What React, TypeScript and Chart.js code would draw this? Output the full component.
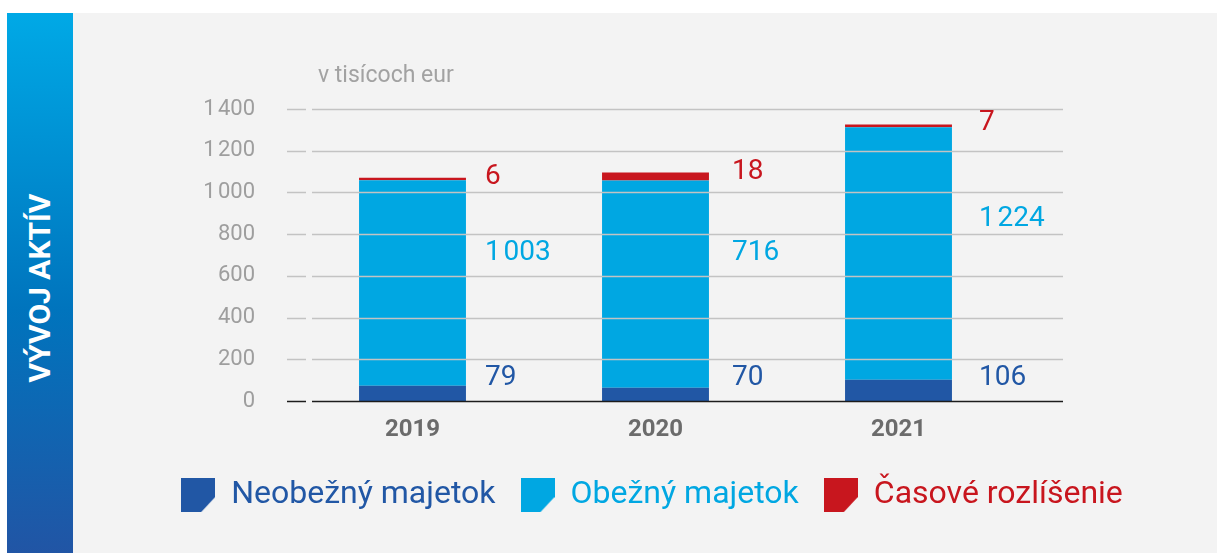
import React, { useEffect, useRef } from 'react';
import { Chart, registerables } from 'chart.js';

Chart.register(...registerables);

const years = ['2019', '2020', '2021'];
// bar heights as drawn in the picture
const neobeznyBar = [73, 64, 102];
const obeznyBar = [985, 993, 1211];
const casoveBar = [12, 38, 13];
// values printed next to the bars
const neobeznyLabel = [79, 70, 106];
const obeznyLabel = [1003, 716, 1224];
const casoveLabel = [6, 18, 7];
const yMin = 0;
const yMax = 1400;
const yStep = 200;
const seriesNames = ['Neobežný majetok', 'Obežný majetok', 'Časové rozlíšenie'];
const seriesColors = ['#2157a5', '#00a7e2', '#c8161e'];
const unitLabel = 'v tisícoch eur';
const bannerTitle = 'VÝVOJ AKTÍV';

const FONT = 'Roboto';

const fmt = (v: number) => {
  const s = String(Math.round(v));
  return s.length > 3 ? s.slice(0, -3) + '\u200A' + s.slice(-3) : s;
};

function makeMarker(color: string): HTMLCanvasElement {
  const c = document.createElement('canvas');
  c.width = 34;
  c.height = 34;
  const g = c.getContext('2d')!;
  g.fillStyle = color;
  g.beginPath();
  g.moveTo(0, 0);
  g.lineTo(34, 0);
  g.lineTo(34, 19);
  g.lineTo(20, 34);
  g.lineTo(0, 34);
  g.closePath();
  g.fill();
  return c;
}

const gridPlugin = {
  id: 'overGrid',
  afterDatasetsDraw(chart: any) {
    const { ctx, chartArea, scales } = chart;
    const y = scales.y;
    ctx.save();
    y.ticks.forEach((t: any) => {
      const py = Math.round(y.getPixelForValue(t.value)) + 0.5;
      ctx.strokeStyle = t.value === 0 ? '#1c1c1c' : '#c3c3c3';
      ctx.lineWidth = 1.5;
      ctx.beginPath();
      ctx.moveTo(chartArea.left - 4, py);
      ctx.lineTo(chartArea.left + 15, py);
      ctx.moveTo(chartArea.left + 21, py);
      ctx.lineTo(chartArea.right + 43, py);
      ctx.stroke();
    });
    ctx.restore();
  },
};

const labelPlugin = {
  id: 'valueLabels',
  afterDatasetsDraw(chart: any) {
    const { ctx, scales, chartArea } = chart;
    const yZero = scales.y.getPixelForValue(0);
    const texts = [neobeznyLabel, obeznyLabel, casoveLabel];
    ctx.save();
    ctx.font = `28px ${FONT}`;
    ctx.textAlign = 'left';
    ctx.textBaseline = 'alphabetic';
    chart.data.datasets.forEach((ds: any, d: number) => {
      const meta = chart.getDatasetMeta(d);
      meta.data.forEach((bar: any, i: number) => {
        const x = bar.x + bar.width / 2 + 19 + 4 * i;
        let y;
        if (d === 0) y = yZero - 16;
        else if (d === 1) y = yZero + 0.64 * (bar.y - yZero);
        else y = bar.y + 6;
        ctx.fillStyle = seriesColors[d];
        ctx.fillText(fmt(texts[d][i]), x, y);
      });
    });
    ctx.font = `23px ${FONT}`;
    ctx.fillStyle = '#a2a2a2';
    ctx.fillText(unitLabel, chartArea.left + 27, chartArea.top - 27);
    ctx.restore();
  },
};

export default function App() {
  const ref = useRef<HTMLCanvasElement>(null);

  useEffect(() => {
    const markers = seriesColors.map(makeMarker);
    const chart = new Chart(ref.current!, {
      type: 'bar',
      data: {
        labels: years,
        datasets: [
          { label: seriesNames[0], data: neobeznyBar, backgroundColor: seriesColors[0] },
          { label: seriesNames[1], data: obeznyBar, backgroundColor: seriesColors[1] },
          { label: seriesNames[2], data: casoveBar, backgroundColor: seriesColors[2] },
        ],
      },
      options: {
        animation: false,
        responsive: false,
        maintainAspectRatio: false,
        events: [],
        layout: { padding: { left: 0, right: 0, top: 96, bottom: 32 } },
        datasets: { bar: { categoryPercentage: 1, barPercentage: 0.44, borderWidth: 0 } },
        scales: {
          x: {
            stacked: true,
            grid: { display: false },
            border: { display: false },
            ticks: { font: { family: FONT, size: 24, weight: 'bold' }, color: '#6b6b6b', padding: 7 },
            afterFit: (s: any) => { s.height = 53; },
          },
          y: {
            stacked: true,
            min: yMin,
            max: yMax,
            grid: { display: false },
            border: { display: false },
            ticks: {
              stepSize: yStep,
              font: { family: FONT, size: 22 },
              color: '#9e9e9e',
              padding: 28,
              callback: (v: any) => fmt(Number(v)),
            },
            afterFit: (s: any) => { s.width = 204; },
          },
          y2: {
            position: 'right',
            display: true,
            grid: { display: false },
            border: { display: false },
            ticks: { display: false },
            afterFit: (s: any) => { s.width = 197; },
          },
        },
        plugins: {
          tooltip: { enabled: false },
          legend: {
            position: 'bottom',
            labels: {
              usePointStyle: true,
              pointStyleWidth: 34,
              padding: 25,
              font: { family: FONT, size: 32 },
              generateLabels: (ch: any) =>
                ch.data.datasets.map((ds: any, i: number) => ({
                  text: ds.label,
                  fillStyle: ds.backgroundColor,
                  strokeStyle: ds.backgroundColor,
                  lineWidth: 0,
                  pointStyle: markers[i],
                  fontColor: seriesColors[i],
                  datasetIndex: i,
                  hidden: false,
                })),
            },
          },
        },
      },
      plugins: [gridPlugin, labelPlugin],
    } as any);
    return () => chart.destroy();
  }, []);

  return (
    <div style={{ position: 'fixed', left: 0, top: 0, width: 1217, height: 553, background: '#ffffff', overflow: 'hidden' }}>
      <div style={{ position: 'absolute', left: 73, top: 13, width: 1144, height: 540, background: '#f3f3f3' }} />
      <div
        style={{
          position: 'absolute',
          left: 7,
          top: 13,
          width: 66,
          height: 540,
          background: 'linear-gradient(to bottom, #00a9e6 0%, #0074bd 55%, #2155a5 100%)',
        }}
      />
      <div
        style={{
          position: 'absolute',
          left: 40,
          top: 288,
          transform: 'translate(-50%, -50%) rotate(-90deg)',
          color: '#ffffff',
          fontFamily: FONT,
          fontWeight: 'bold',
          fontSize: 30,
          whiteSpace: 'nowrap',
          lineHeight: 1,
        }}
      >
        {bannerTitle}
      </div>
      <canvas ref={ref} width={1130} height={540} style={{ position: 'absolute', left: 87, top: 13, width: 1130, height: 540 }} />
    </div>
  );
}
